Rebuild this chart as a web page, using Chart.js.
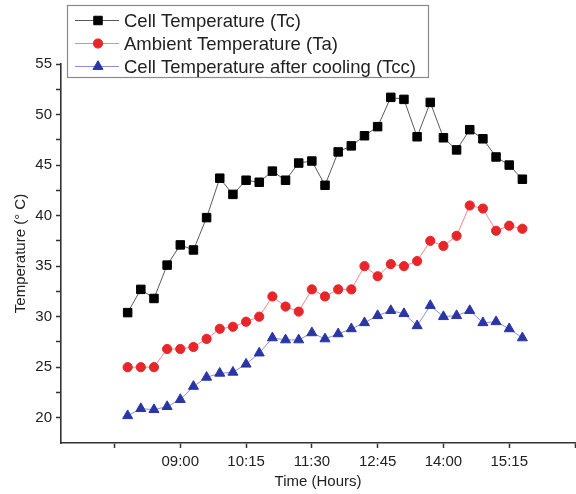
<!DOCTYPE html>
<html>
<head>
<meta charset="utf-8">
<script src="https://cdn.jsdelivr.net/npm/chart.js@4/dist/chart.umd.min.js"></script>
<style>
  html, body { margin: 0; padding: 0; background: #fff; overflow: hidden; }
  canvas { display: block; }
</style>
</head>
<body>
<canvas id="tempChart" width="576" height="494"></canvas>
<script>
// measurement times (every 15 min)
const timeLabels = [
  '08:00', '08:15', '08:30', '08:45', '09:00', '09:15', '09:30', '09:45',
  '10:00', '10:15', '10:30', '10:45', '11:00', '11:15', '11:30', '11:45',
  '12:00', '12:15', '12:30', '12:45', '13:00', '13:15', '13:30', '13:45',
  '14:00', '14:15', '14:30', '14:45', '15:00', '15:15', '15:30'
];
const cellTemp = [
  30.4, 32.7, 31.8, 35.1, 37.1, 36.6, 39.8, 43.7, 42.1, 43.5, 43.3,
  44.4, 43.5, 45.2, 45.4, 43.0, 46.3, 46.9, 47.9, 48.8, 51.7, 51.5,
  47.8, 51.2, 47.7, 46.5, 48.5, 47.6, 45.8, 45.0, 43.6
];
const ambientTemp = [
  25.0, 25.0, 25.0, 26.8, 26.8, 27.0, 27.8, 28.8, 29.0, 29.5, 30.0,
  32.0, 31.0, 30.5, 32.7, 32.0, 32.7, 32.7, 35.0, 34.0, 35.2, 35.0,
  35.5, 37.5, 37.0, 38.0, 41.0, 40.7, 38.5, 39.0, 38.7
];
const cooledTemp = [
  20.2, 20.9, 20.8, 21.1, 21.8, 23.1, 24.0, 24.4, 24.5, 25.3, 26.4,
  27.9, 27.7, 27.7, 28.4, 27.8, 28.3, 28.8, 29.4, 30.1, 30.6, 30.3,
  29.1, 31.1, 30.0, 30.1, 30.6, 29.4, 29.5, 28.8, 27.9
];
// x axis ticks (minutes of day), labels only between 09:00 and 15:15
const xTickLabels = ['07:45', '09:00', '10:15', '11:30', '12:45', '14:00', '15:15', '16:30'];
const xShownLabels = ['09:00', '10:15', '11:30', '12:45', '14:00', '15:15'];

function toMin(s) {
  const p = s.split(':');
  return parseInt(p[0], 10) * 60 + parseInt(p[1], 10);
}
function toHHMM(m) {
  const h = Math.floor(m / 60), mm = m % 60;
  return String(h).padStart(2, '0') + ':' + String(mm).padStart(2, '0');
}
function pts(vals) {
  return vals.map((v, i) => ({ x: toMin(timeLabels[i]), y: v }));
}

const FONT = '"Liberation Sans", Arial, sans-serif';
const TXT = '#222';

// legend drawn inside the plot, top-left, like the original figure
const boxLegend = {
  id: 'boxLegend',
  afterDraw(chart) {
    const ctx = chart.ctx;
    ctx.save();
    ctx.fillStyle = '#fff';
    ctx.fillRect(67, 5, 361, 72);
    ctx.strokeStyle = '#8a8a8a';
    ctx.lineWidth = 1.2;
    ctx.strokeRect(67.5, 5.5, 361, 72);
    chart.data.datasets.forEach((ds, i) => {
      const y = 20.5 + i * 23;
      ctx.strokeStyle = ds.borderColor;
      ctx.lineWidth = 1;
      ctx.beginPath();
      ctx.moveTo(75, y);
      ctx.lineTo(119, y);
      ctx.stroke();
      ctx.fillStyle = ds.pointBackgroundColor;
      ctx.strokeStyle = ds.pointBorderColor;
      Chart.helpers.drawPoint(ctx, {
        pointStyle: ds.pointStyle,
        radius: ds.pointRadius,
        borderWidth: 1,
        rotation: 0
      }, 98, y);
      ctx.fillStyle = TXT;
      ctx.font = '18.5px ' + FONT;
      ctx.textBaseline = 'middle';
      ctx.textAlign = 'left';
      ctx.fillText(ds.label, 124, y + 1);
    });
    ctx.restore();
  }
};

const ctx = document.getElementById('tempChart');
new Chart(ctx, {
  type: 'line',
  data: {
    datasets: [{
      label: 'Cell Temperature (Tc)',
      data: pts(cellTemp),
      borderColor: '#5a5a5a',
      borderWidth: 1,
      pointStyle: 'rect',
      pointRadius: 6,
      pointBackgroundColor: '#000',
      pointBorderColor: '#000',
      tension: 0
    }, {
      label: 'Ambient Temperature (Ta)',
      data: pts(ambientTemp),
      borderColor: '#ee8a8a',
      borderWidth: 1,
      pointStyle: 'circle',
      pointRadius: 4.6,
      pointBackgroundColor: '#e8262a',
      pointBorderColor: '#e8262a',
      tension: 0
    }, {
      label: 'Cell Temperature after cooling (Tcc)',
      data: pts(cooledTemp),
      borderColor: '#8c8fd6',
      borderWidth: 1,
      pointStyle: 'triangle',
      pointRadius: 5.8,
      pointBackgroundColor: '#2a36a6',
      pointBorderColor: '#2a36a6',
      tension: 0
    }]
  },
  options: {
    responsive: false,
    animation: false,
    layout: { autoPadding: false, padding: { top: 64, right: 1, left: 0, bottom: 0 } },
    plugins: {
      legend: { display: false },
      tooltip: { enabled: false }
    },
    scales: {
      x: {
        type: 'linear',
        min: 404,
        max: 990,
        afterBuildTicks: (scale) => {
          scale.ticks = xTickLabels.map(s => ({ value: toMin(s) }));
        },
        afterFit: (scale) => {
          scale.height = 51;
          scale.paddingRight = 0;
          scale.paddingLeft = 0;
        },
        border: { color: '#333', width: 1.6 },
        grid: { drawOnChartArea: false, tickLength: 5, color: '#333', tickWidth: 1.5 },
        ticks: {
          autoSkip: false,
          maxRotation: 0,
          padding: 5,
          color: TXT,
          font: { family: FONT, size: 15 },
          callback: (v) => xShownLabels.includes(toHHMM(v)) ? toHHMM(v) : ''
        },
        title: {
          display: true,
          text: 'Time (Hours)',
          color: TXT,
          font: { family: FONT, size: 15 },
          padding: { top: 0, bottom: 3 }
        }
      },
      y: {
        min: 17.5,
        max: 55,
        afterBuildTicks: (scale) => {
          scale.ticks = scale.ticks.filter(t => t.value >= 20);
        },
        afterFit: (scale) => { scale.width = 61; },
        border: { color: '#333', width: 1.6 },
        grid: { drawOnChartArea: false, tickLength: 5, color: '#333', tickWidth: 1.5 },
        ticks: {
          stepSize: 2.5,
          padding: 4,
          color: TXT,
          font: { family: FONT, size: 15 },
          callback: (v) => v % 5 === 0 ? v : ''
        },
        title: {
          display: true,
          text: 'Temperature (° C)',
          color: TXT,
          font: { family: FONT, size: 15 },
          padding: { top: 12, bottom: 0 }
        }
      }
    }
  },
  plugins: [boxLegend]
});
</script>
</body>
</html>
